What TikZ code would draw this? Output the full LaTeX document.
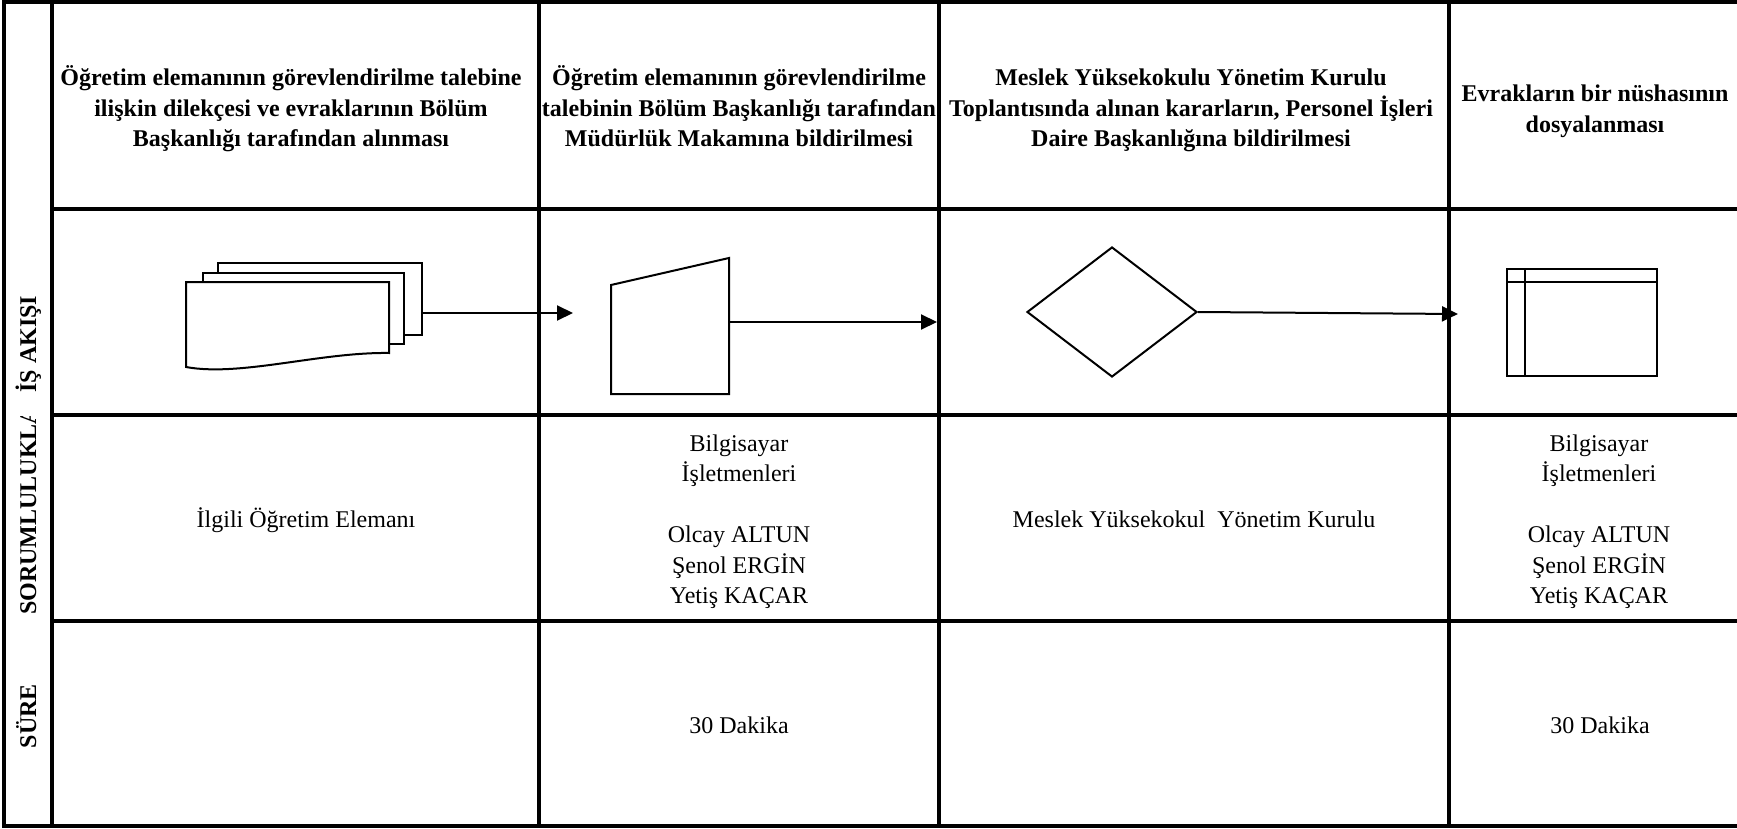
\documentclass[tikz,border=0pt]{standalone}
\usepackage{fontspec}
\setmainfont{Liberation Serif}
\usetikzlibrary{arrows.meta,shapes.geometric}
\begin{document}
\begin{tikzpicture}[x=1pt,y=-1pt,
  grid/.style={line width=4.5pt, line cap=rect},
  shp/.style={draw, line width=2pt, fill=white},
  flow/.style={line width=2pt, -{Triangle[length=16pt,width=15pt]}},
  hdr/.style={font=\fontsize{24}{30.5}\selectfont\bfseries, align=center, inner sep=0pt},
  txt/.style={font=\fontsize{24}{30.5}\selectfont, align=center, inner sep=0pt},
  side/.style={font=\fontsize{24}{30}\selectfont\bfseries, rotate=90, inner sep=0pt}]
\useasboundingbox (0,0) rectangle (1737,829);
\clip (0,0) rectangle (1737,829);
\fill[white] (0,0) rectangle (1737,829);

% grid
\draw[grid] (4,2) -- (1745,2);
\draw[grid] (4,826) -- (1745,826);
\draw[grid] (4,2) -- (4,826);
\draw[grid] (52,2) -- (52,826);
\draw[grid] (539,2) -- (539,826);
\draw[grid] (939,2) -- (939,826);
\draw[grid] (1449,2) -- (1449,826);
\draw[grid] (52,209) -- (1745,209);
\draw[grid] (52,415) -- (1745,415);
\draw[grid] (52,621) -- (1745,621);

% side labels
\node[side, anchor=base] (sIs) at (36,344) {İŞ AKIŞI};
\begin{scope}
\clip (8,416) rectangle (48,621);
\node[side, anchor=base west] (sSor) at (36,615) {SORUMLULUKLA};
\end{scope}
\node[side, anchor=base] (sSure) at (36,716) {SÜRE};

% headers
\node[hdr] (h1) at (291,110) {\strut Öğretim elemanının görevlendirilme talebine\\ilişkin dilekçesi ve evraklarının Bölüm\\Başkanlığı tarafından alınması\strut};
\node[hdr] (h2) at (739,110) {\strut Öğretim elemanının görevlendirilme\\talebinin Bölüm Başkanlığı tarafından\\Müdürlük Makamına bildirilmesi\strut};
\node[hdr] (h3) at (1191,110) {\strut Meslek Yüksekokulu Yönetim Kurulu\\Toplantısında alınan kararların, Personel İşleri\\Daire Başkanlığına bildirilmesi\strut};
\node[hdr] (h4) at (1595,111) {\strut Evrakların bir nüshasının\\dosyalanması\strut};

% flow shapes
\draw[shp] (218,263) rectangle (422,335);
\draw[shp] (203,273) rectangle (404,344);
\draw[shp] (186,282) -- (389,282) -- (389,353) .. controls (320,352) and (240,377) .. (186,367) -- cycle;
\coordinate (docR) at (422,313);
\coordinate (a1end) at (573,313);
\draw[flow] (docR) -- (a1end);

\draw[shp] (611,285) -- (729,258) -- (729,394) -- (611,394) -- cycle;
\coordinate (tzR) at (729,322);
\coordinate (a2end) at (937,322);
\draw[flow] (tzR) -- (a2end);

\node[draw, diamond, line width=2pt, minimum width=170pt, minimum height=130pt, inner sep=0pt] (dec) at (1112,312) {};
\coordinate (a3end) at (1458,314);
\draw[flow] (dec.east) -- (a3end);

\node[draw, line width=2pt, minimum width=150pt, minimum height=107pt, inner sep=0pt] (store) at (1582,322.5) {};
\draw[line width=2pt] ([xshift=19pt]store.north west) -- ([xshift=19pt]store.south west);
\draw[line width=2pt] ([yshift=-14pt]store.north west) -- ([yshift=-14pt]store.north east);

% responsibilities
\node[txt, anchor=base] (r1) at (306,527) {İlgili Öğretim Elemanı};
\node[txt] (r2) at (739,521.25) {\strut Bilgisayar\\İşletmenleri\\[30.5pt]Olcay ALTUN\\Şenol ERGİN\\Yetiş KAÇAR\strut};
\node[txt, anchor=base] (r3) at (1194,527) {Meslek Yüksekokul\ \ Yönetim Kurulu};
\node[txt] (r4) at (1599,521.25) {\strut Bilgisayar\\İşletmenleri\\[30.5pt]Olcay ALTUN\\Şenol ERGİN\\Yetiş KAÇAR\strut};

% durations
\node[txt, anchor=base] (d2) at (739,733) {30 Dakika};
\node[txt, anchor=base] (d4) at (1600,733) {30 Dakika};
\end{tikzpicture}
\end{document}
